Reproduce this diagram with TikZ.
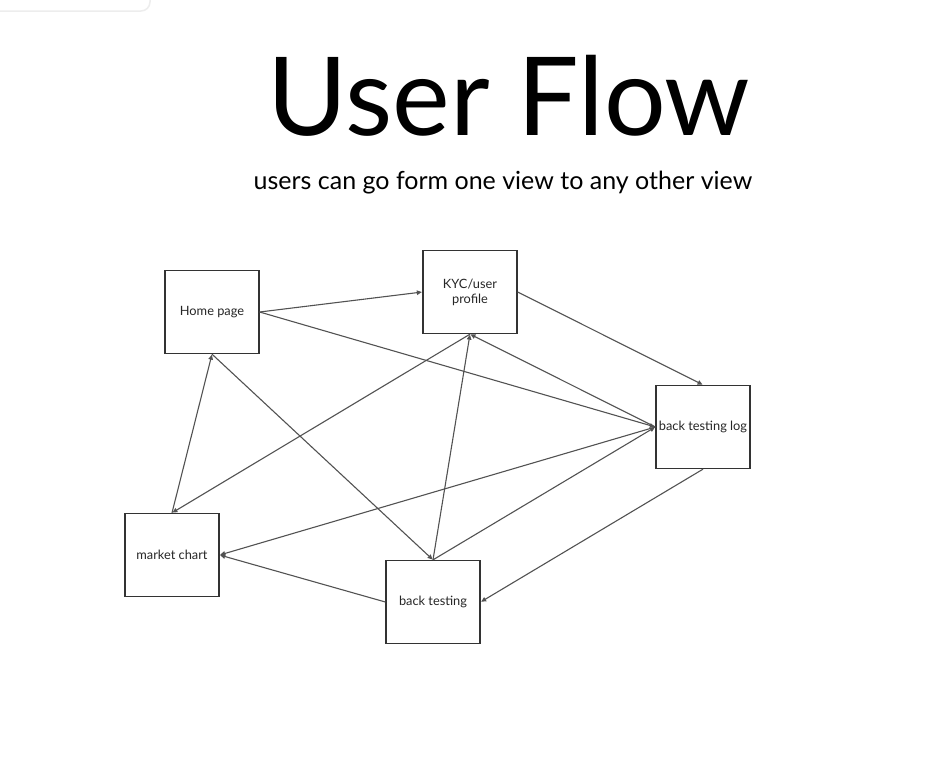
\documentclass[tikz,border=0pt]{standalone}
\usepackage{fontspec}
\setmainfont{Lato}
\usepackage{tikz}
\usetikzlibrary{arrows.meta}

\begin{document}
\begin{tikzpicture}[
    x=1pt, y=-1pt,
    >={Triangle[length=5pt, width=4.5pt]},
    view/.style={rectangle, draw=black!80, line width=1.3pt, fill=white, minimum width=94pt, minimum height=83pt, inner sep=2pt, align=center, font=\fontsize{12.8}{15}\selectfont, text=black!85},
    flow/.style={->, draw=black!68, line width=1.1pt, shorten >=0.5pt}
  ]
    \useasboundingbox (0,0) rectangle (942,764);
    % faint panel corner at the top left
    \draw[black!7, line width=1.5pt, rounded corners=9pt, fill=white] (-20,-20) rectangle (150,11);

    \node[font=\fontsize{109}{115}\selectfont] (title) at (509,96) {User Flow};
    \node[font=\fontsize{25}{29}\selectfont] (sub) at (503,183) {users can go form one view to any other view};

    \node[view] (home) at (212,312) {Home page};
    \node[view] (kyc) at (470,292) {KYC/user\\profile};
    \node[view] (log) at (703,427) {back testing log};
    \node[view] (chart) at (172,555) {market chart};
    \node[view] (bt) at (433,602) {back testing};

    \draw[flow] (home.east) -- (kyc.west);
    \draw[flow] (home.east) -- (log.west);
    \draw[flow] (kyc.east) -- (log.north);
    \draw[flow] (log.west) -- (kyc.south);
    \draw[flow] (kyc.south) -- (chart.north);
    \draw[flow] (bt.north) -- (kyc.south);
    \draw[flow] (chart.north) -- (home.south);
    \draw[flow] (home.south) -- (bt.north);
    \draw[flow] (bt.north) -- (log.west);
    \draw[flow] (log.south) -- (bt.east);
    \draw[flow] (bt.west) -- (chart.east);
    \draw[flow] (log.west) -- (chart.east);
  \end{tikzpicture}
\end{document}
